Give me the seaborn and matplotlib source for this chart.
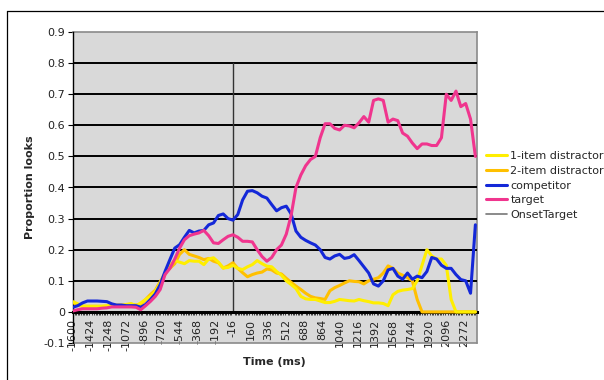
import numpy as np
import pandas as pd
import matplotlib
matplotlib.use("Agg")
import matplotlib.pyplot as plt
from matplotlib.lines import Line2D
import seaborn as sns

# Sample times (ms relative to target onset), one sample every 48 ms
times = np.arange(-1600, 2400, 48)

one_item = [
    0.033, 0.026, 0.019, 0.018, 0.018, 0.018, 0.018, 0.020, 0.020, 0.020,
    0.020, 0.024, 0.027, 0.020, 0.029, 0.040, 0.050, 0.066, 0.093, 0.120,
    0.150, 0.165, 0.160, 0.155, 0.165, 0.163, 0.163, 0.152, 0.170, 0.174,
    0.160, 0.141, 0.143, 0.150, 0.140, 0.136, 0.145, 0.152, 0.165, 0.155,
    0.147, 0.145, 0.130, 0.118, 0.100, 0.088, 0.075, 0.050, 0.042, 0.040,
    0.040, 0.035, 0.030, 0.030, 0.034, 0.040, 0.038, 0.036, 0.035, 0.040,
    0.036, 0.033, 0.029, 0.029, 0.027, 0.020, 0.055, 0.066, 0.070, 0.072,
    0.075, 0.100, 0.150, 0.200, 0.180, 0.170, 0.170, 0.150, 0.040, 0.000,
    0.000, 0.000, 0.000, 0.000,
]

two_item = [
    0.030, 0.022, 0.018, 0.018, 0.018, 0.018, 0.018, 0.018, 0.020, 0.022,
    0.022, 0.022, 0.024, 0.022, 0.024, 0.040, 0.056, 0.070, 0.097, 0.125,
    0.140, 0.155, 0.185, 0.200, 0.185, 0.180, 0.175, 0.168, 0.172, 0.163,
    0.158, 0.141, 0.148, 0.158, 0.140, 0.126, 0.113, 0.120, 0.125, 0.128,
    0.138, 0.135, 0.125, 0.122, 0.108, 0.095, 0.083, 0.072, 0.060, 0.050,
    0.045, 0.043, 0.040, 0.068, 0.078, 0.085, 0.093, 0.100, 0.098, 0.097,
    0.090, 0.100, 0.105, 0.110, 0.125, 0.148, 0.140, 0.125, 0.118, 0.110,
    0.100, 0.040, 0.000, 0.000, 0.000, 0.000, 0.000, 0.000, 0.000, 0.000,
    0.000, 0.000, 0.000, 0.000,
]

competitor = [
    0.015, 0.020, 0.029, 0.035, 0.035, 0.035, 0.034, 0.033, 0.026, 0.022,
    0.022, 0.020, 0.020, 0.020, 0.015, 0.024, 0.040, 0.058, 0.088, 0.130,
    0.168, 0.205, 0.216, 0.240, 0.262, 0.254, 0.260, 0.262, 0.280, 0.286,
    0.310, 0.315, 0.300, 0.295, 0.313, 0.360, 0.388, 0.390, 0.383, 0.372,
    0.366, 0.345, 0.325, 0.335, 0.340, 0.315, 0.260, 0.240, 0.230, 0.222,
    0.215, 0.200, 0.175, 0.170, 0.180, 0.185, 0.172, 0.175, 0.184, 0.165,
    0.145, 0.125, 0.090, 0.083, 0.100, 0.135, 0.140, 0.115, 0.105, 0.125,
    0.105, 0.115, 0.110, 0.130, 0.175, 0.170, 0.150, 0.140, 0.140, 0.120,
    0.104, 0.100, 0.060, 0.280,
]

target = [
    0.003, 0.007, 0.010, 0.010, 0.010, 0.010, 0.012, 0.013, 0.016, 0.016,
    0.016, 0.016, 0.016, 0.015, 0.007, 0.020, 0.034, 0.050, 0.072, 0.120,
    0.140, 0.170, 0.205, 0.232, 0.245, 0.250, 0.254, 0.262, 0.245, 0.222,
    0.220, 0.232, 0.243, 0.248, 0.240, 0.227, 0.227, 0.225, 0.200, 0.178,
    0.163, 0.175, 0.200, 0.215, 0.250, 0.310, 0.400, 0.440, 0.470, 0.490,
    0.500, 0.560, 0.605, 0.605, 0.590, 0.585, 0.600, 0.598, 0.592, 0.608,
    0.628, 0.610, 0.680, 0.685, 0.680, 0.610, 0.620, 0.615, 0.575, 0.565,
    0.543, 0.525, 0.540, 0.540, 0.535, 0.535, 0.560, 0.700, 0.680, 0.710,
    0.660, 0.670, 0.620, 0.500,
]

# Target onset marker
onset_time = [-16, -16]
onset_level = [0.0, 0.8]

series_order = ["1-item distractor", "2-item distractor", "competitor", "target"]
draw_order = ["2-item distractor", "1-item distractor", "competitor", "target"]
palette = {
    "1-item distractor": "#FFEE00",
    "2-item distractor": "#FFC000",
    "competitor": "#1428D8",
    "target": "#F0358E",
}
onset_color = "#333333"

tick_times = [-1600, -1424, -1248, -1072, -896, -720, -544, -368, -192, -16,
              160, 336, 512, 688, 864, 1040, 1216, 1392, 1568, 1744, 1920,
              2096, 2272]
tick_labels = [str(t) for t in tick_times]
y_ticks = [-0.1, 0.0, 0.1, 0.2, 0.3, 0.4, 0.5, 0.6, 0.7, 0.8, 0.9]
y_labels = ["-0.1", "0", "0.1", "0.2", "0.3", "0.4", "0.5", "0.6", "0.7", "0.8", "0.9"]
grid_levels = [0.1, 0.2, 0.3, 0.4, 0.5, 0.6, 0.7, 0.8]
x_range = [-1604, 2400]
y_range = [-0.1, 0.9]

sns.set_theme(style="white")
plt.rcParams["font.family"] = ["DejaVu Sans"]
plt.rcParams["axes.unicode_minus"] = False

values = {
    "1-item distractor": one_item,
    "2-item distractor": two_item,
    "competitor": competitor,
    "target": target,
}
df = pd.concat(
    [pd.DataFrame({"time": times, "proportion": v, "series": name})
     for name, v in values.items()],
    ignore_index=True,
)

W, H = 604, 380
fig = plt.figure(figsize=(W / 100, H / 100), dpi=100)
fig.patch.set_facecolor("white")
ax = fig.add_axes([72.5 / W, 1 - 343 / H, (477 - 72.5) / W, (343 - 32) / H])
ax.set_facecolor("#D9D9D9")

sns.lineplot(data=df, x="time", y="proportion", hue="series",
             hue_order=draw_order, palette=palette, linewidth=2.2,
             estimator=None, legend=False, ax=ax, zorder=3.2)
sns.lineplot(x=onset_time, y=onset_level, color=onset_color, linewidth=1.0,
             estimator=None, sort=False, ax=ax, zorder=2.9)

ax.set_xlim(*x_range)
ax.set_ylim(*y_range)
ax.set_yticks(y_ticks, y_labels)

# Horizontal gridlines
for level in grid_levels:
    ax.axhline(level, color="black", linewidth=1.4, zorder=2.85)
ax.axhline(y_range[0], color="#8a8a8a", linewidth=1.2, zorder=2.8,
           clip_on=False)

# Category axis crossing at zero
ax.spines["bottom"].set_position(("data", 0))
ax.spines["bottom"].set_color("black")
ax.spines["bottom"].set_linewidth(2.2)
ax.spines["bottom"].set_zorder(3.0)
for side in ["top", "right"]:
    ax.spines[side].set_visible(True)
    ax.spines[side].set_color("#8a8a8a")
    ax.spines[side].set_linewidth(1.2)
ax.spines["left"].set_color("black")
ax.spines["left"].set_linewidth(1.0)
ax.spines["left"].set_zorder(3.0)

ax.set_xticks(tick_times, tick_labels, rotation=90, fontsize=8)
ax.set_xticks(np.arange(-1600, 2400, 16), minor=True)
ax.tick_params(axis="x", which="major", length=0, pad=5, colors="#222222")
ax.tick_params(axis="x", which="minor", length=2, width=0.5, color="black",
               bottom=True)
ax.tick_params(axis="y", which="major", length=3.5, width=0.8, color="black",
               left=True, pad=2, labelsize=8, labelcolor="#222222")

ax.set_xlabel("Time (ms)", fontsize=8, fontweight="bold")
ax.xaxis.set_label_coords(0.5, -0.045)
ax.set_ylabel("Proportion looks", fontsize=8, fontweight="bold")
ax.yaxis.set_label_coords(-0.092, 0.5)

# Chart frame
fig.add_artist(Line2D([7 / W, 1], [1 - 11 / H, 1 - 11 / H],
                      transform=fig.transFigure, color="black", linewidth=0.9))
fig.add_artist(Line2D([7 / W, 7 / W], [0, 1 - 11 / H],
                      transform=fig.transFigure, color="black", linewidth=0.9))

handles = [Line2D([], [], color=palette[n], linewidth=2.2) for n in series_order]
handles.append(Line2D([], [], color="#777777", linewidth=1.2))
fig.legend(handles, series_order + ["OnsetTarget"], loc="upper left",
           bbox_to_anchor=(486 / W, 1 - 151 / H), frameon=False, fontsize=8,
           handlelength=1.9, handletextpad=0.3, labelspacing=0.43,
           borderpad=0, borderaxespad=0)

fig.savefig("out.png", dpi=100)
